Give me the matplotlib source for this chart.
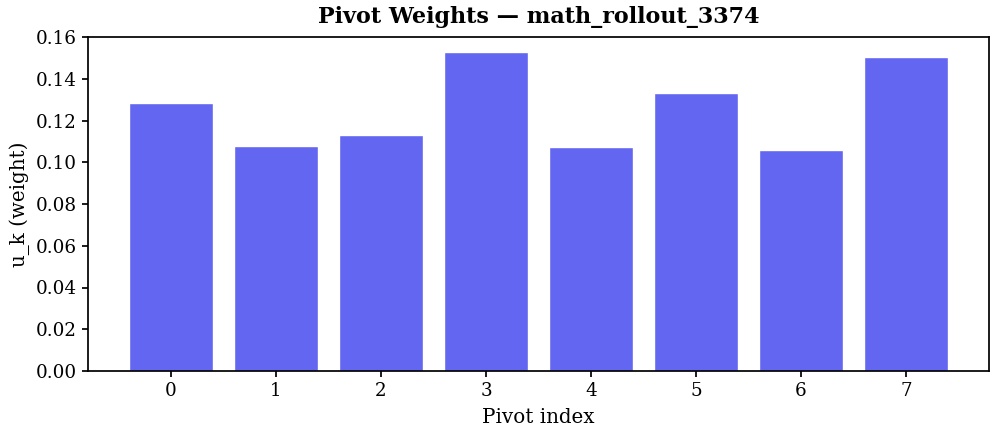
import matplotlib.pyplot as plt
import numpy as np

plt.rcParams['font.family'] = 'DejaVu Serif'

pivots = [0, 1, 2, 3, 4, 5, 6, 7]
weights = [0.1283, 0.1076, 0.1129, 0.1527, 0.1071, 0.1331, 0.1057, 0.1503]

fig = plt.figure(figsize=(9.96, 4.38), dpi=100)
ax = fig.add_axes([88 / 996, 1 - 371 / 438, 901 / 996, 334 / 438])

ax.bar(pivots, weights, width=0.8, color='#6366f1', edgecolor='white', linewidth=1.0)

ax.set_ylim(0, 0.16)
ax.set_xticks(pivots)
ax.set_yticks(np.arange(0, 0.161, 0.02))
ax.yaxis.set_major_formatter(plt.FormatStrFormatter('%.2f'))
ax.tick_params(labelsize=13.2, width=1.25, length=4.5)
for s in ax.spines.values():
    s.set_linewidth(1.25)

ax.set_xlabel('Pivot index', fontsize=14.3, labelpad=6)
ax.set_ylabel('u_k (weight)', fontsize=14.3)
ax.set_title('Pivot Weights — math_rollout_3374', fontsize=16, fontweight='bold', pad=10)

fig.savefig('out.png', dpi=100)
